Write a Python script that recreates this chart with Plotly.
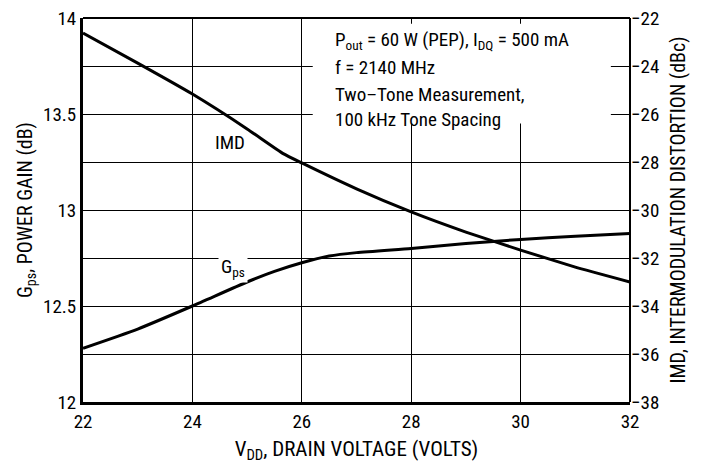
import plotly.graph_objects as go

vdd_gps = [22, 23, 24, 25, 25.5, 26, 26.5, 27, 28, 29, 30, 31, 32]
gps = [12.28, 12.38, 12.5, 12.625, 12.68, 12.725, 12.76, 12.778, 12.80, 12.825, 12.847, 12.863, 12.877]

vdd_imd = [22, 23, 24, 25, 25.66, 26, 27, 28, 29, 30, 31, 32]
imd = [-22.63, -23.88, -25.17, -26.62, -27.65, -28.04, -29.12, -30.08, -30.92, -31.67, -32.38, -33.0]

x_ticks = [22, 24, 26, 28, 30, 32]
y1_ticks = [12, 12.5, 13, 13.5, 14]
y2_ticks = [-38, -36, -34, -32, -30, -28, -26, -24, -22]

FONT = "Liberation Sans Narrow, Roboto Condensed, Arial Narrow, sans-serif"

fig = go.Figure()
fig.add_trace(go.Scatter(x=vdd_gps, y=gps, mode="lines", line=dict(color="black", width=3, shape="spline", smoothing=0.6), yaxis="y", showlegend=False))
fig.add_trace(go.Scatter(x=vdd_imd, y=imd, mode="lines", line=dict(color="black", width=3, shape="spline", smoothing=0.4), yaxis="y2", showlegend=False))

fig.update_layout(
    width=714, height=464,
    margin=dict(l=83, r=84, t=18, b=62),
    plot_bgcolor="white", paper_bgcolor="white",
    font=dict(family=FONT, size=19, color="black"),
    xaxis=dict(range=[22, 32], tickvals=x_ticks, showgrid=True, gridcolor="black", gridwidth=1.3,
               showline=True, linecolor="black", linewidth=3, ticks="", zeroline=False, automargin=False,
               title=dict(text="V<sub>DD</sub>, DRAIN VOLTAGE (VOLTS)", standoff=18, font=dict(size=21)),
               tickfont=dict(size=19)),
    yaxis=dict(range=[12, 14], tickvals=y1_ticks, ticktext=["12", "12.5", "13", "13.5", "14"], showgrid=False,
               showline=True, linecolor="black", linewidth=3, ticks="", zeroline=False, automargin=False,
               title=dict(text="G<sub>ps</sub>, POWER GAIN (dB)", standoff=6, font=dict(size=20)),
               tickfont=dict(size=19)),
    yaxis2=dict(range=[-38, -22], tickvals=y2_ticks, overlaying="y", side="right", showgrid=True,
                gridcolor="black", gridwidth=1, showline=False, ticks="", zeroline=False, automargin=False,
                title=dict(text="IMD, INTERMODULATION DISTORTION (dBc)", standoff=12, font=dict(size=20)),
                tickfont=dict(size=19)),
)

# top and right frame lines
fig.add_shape(type="line", xref="paper", yref="paper", x0=0, x1=1, y0=1, y1=1, line=dict(color="black", width=2))
fig.add_shape(type="line", xref="paper", yref="paper", x0=1, x1=1, y0=0, y1=1, line=dict(color="black", width=2))

# white box behind conditions text
fig.add_shape(type="rect", xref="x", yref="y", x0=26.2, x1=31.65, y0=13.45, y1=13.97,
              fillcolor="white", line=dict(width=0), layer="above")

lines = ["P<sub>out</sub> = 60 W (PEP), I<sub>DQ</sub> = 500 mA", "f = 2140 MHz",
         "Two\u2013Tone Measurement,", "100 kHz Tone Spacing"]
ys = [13.885, 13.74, 13.6, 13.47]
for t, yv in zip(lines, ys):
    fig.add_annotation(x=26.57, y=yv, xref="x", yref="y", text=t, showarrow=False,
                       xanchor="left", yanchor="middle", font=dict(size=19))

fig.add_annotation(x=24.69, y=13.35, xref="x", yref="y", text="IMD", showarrow=False, font=dict(size=19))
fig.add_annotation(x=24.74, y=12.7, xref="x", yref="y", text="G<sub>ps</sub>", showarrow=False,
                   bgcolor="white", borderpad=2, font=dict(size=19))

fig.write_html("out.html")
